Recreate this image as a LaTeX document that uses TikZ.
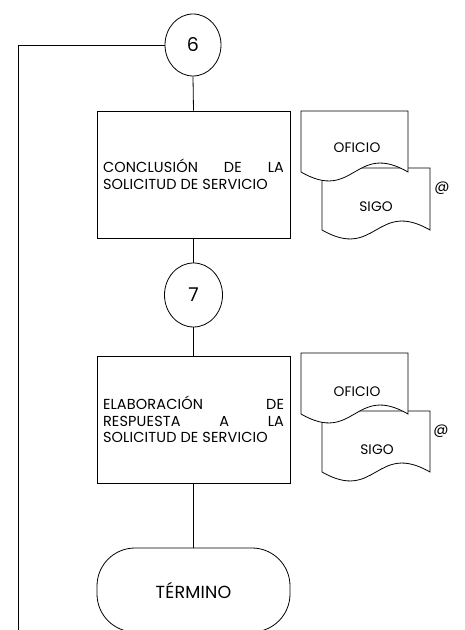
\documentclass[tikz,border=0pt]{standalone}
\usepackage{fontspec}
\setmainfont{Poppins}[LetterSpace=1]
\usetikzlibrary{shapes.geometric,calc}

\begin{document}
\begin{tikzpicture}[x=1pt, y=1pt, line width=0.8pt, font=\fontsize{14.5}{16.5}\selectfont,
  conector/.style={draw, ellipse, minimum width=56pt, minimum height=62pt, inner sep=0pt, font=\fontsize{19}{19}\selectfont},
  proceso/.style={draw, rectangle, minimum width=193pt, minimum height=127pt, text width=181pt, align=justify, inner sep=0pt},
  termino/.style={draw, rectangle, rounded corners=38pt, minimum width=193pt, minimum height=84pt, font=\fontsize{17.5}{17.5}\selectfont},
  hoja/.style={draw, fill=white},
  hojatxt/.style={font=\fontsize{13.8}{14}\selectfont, inner sep=0pt},
  arroba/.style={font=\fontsize{15}{15}\selectfont, inner sep=0pt}]
  \useasboundingbox (0,0) rectangle (464,630);
  \clip (0,0) rectangle (464,630);

  % flujo principal
  \node[conector] (c6) at (193,585) {6};
  \node[proceso] (conclusion) at (193.5,455.5) {CONCLUSIÓN DE LA\linebreak SOLICITUD DE SERVICIO};
  \node[conector, minimum width=58pt, minimum height=64pt] (c7) at (193.5,335) {7};
  \node[proceso] (respuesta) at (193.5,210.5) {ELABORACIÓN DE\linebreak RESPUESTA A LA\linebreak SOLICITUD DE SERVICIO};
  \node[termino] (fin) at (193.5,40) {TÉRMINO};
  \coordinate (retorno) at (18,0);

  \draw (c6.west) -| (retorno);
  \draw (c6.south) -- (conclusion.north);
  \draw (conclusion.south) -- (c7.north);
  \draw (c7.south) -- (respuesta.north);
  \draw (respuesta.south) -- (fin.north);

  % documentos de la conclusion
  \draw[hoja] (322,462) -- (430,462) -- (430,400) .. controls (376,431) and (376,369) .. (322,400) -- cycle;
  \draw[hoja] (301,519) -- (408,519) -- (408,458) .. controls (354.5,489) and (354.5,427) .. (301,458) -- cycle;
  \node[hojatxt] (oficio1) at (357,482) {OFICIO};
  \node[hojatxt] (sigo1) at (376,423) {SIGO};
  \node[arroba] (arroba1) at (442,442) {@};

  % documentos de la respuesta
  \draw[hoja] (322,219) -- (430,219) -- (430,158) .. controls (376,189) and (376,127) .. (322,158) -- cycle;
  \draw[hoja] (301,277) -- (408,277) -- (408,216) .. controls (354.5,247) and (354.5,185) .. (301,216) -- cycle;
  \node[hojatxt] (oficio2) at (357,238) {OFICIO};
  \node[hojatxt] (sigo2) at (377,180) {SIGO};
  \node[arroba] (arroba2) at (441,199) {@};
\end{tikzpicture}
\end{document}
